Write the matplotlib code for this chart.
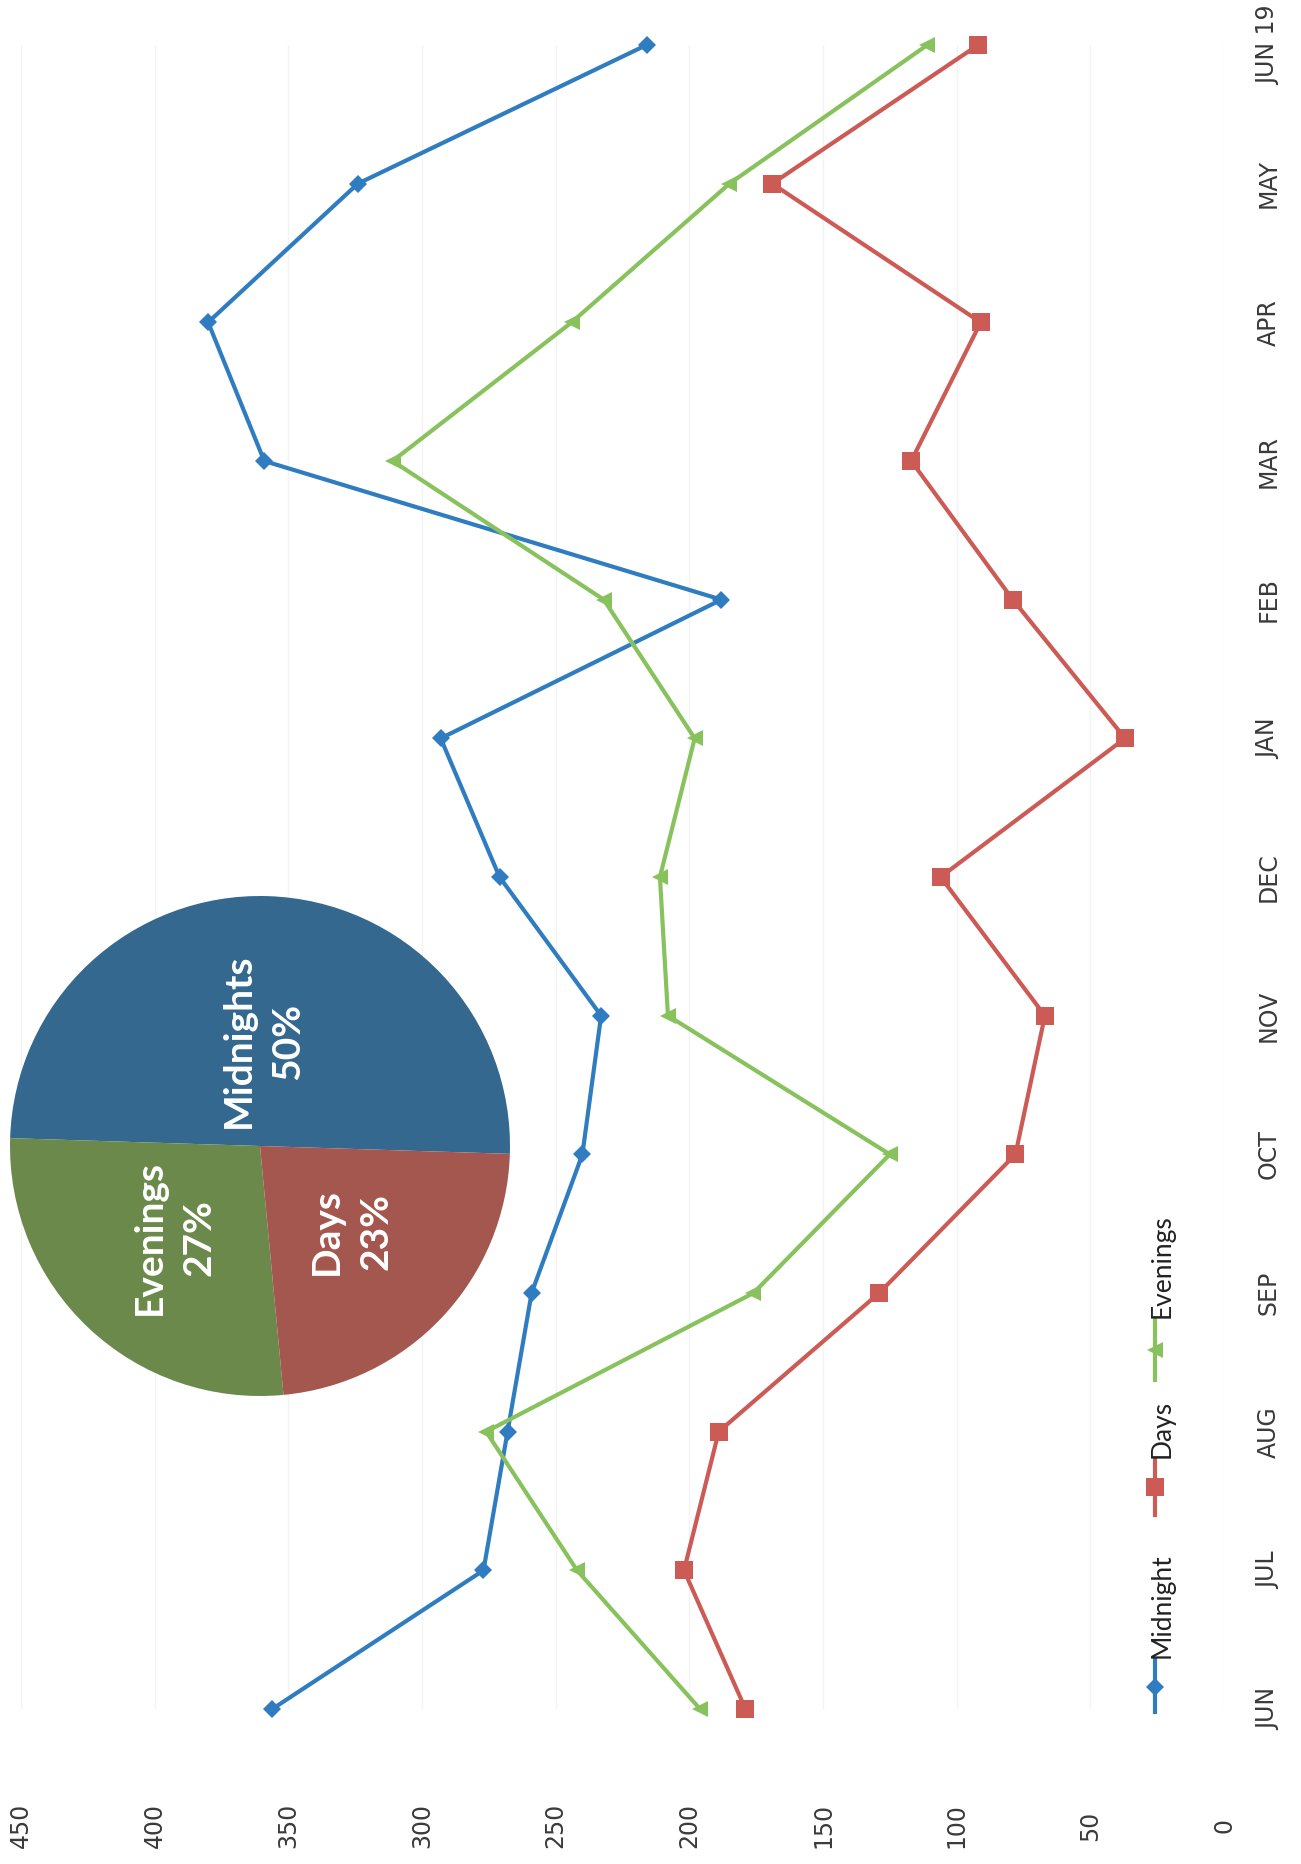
import numpy as np
import matplotlib.pyplot as plt
from matplotlib.lines import Line2D

# monthly counts per shift
months = ["JUN", "JUL", "AUG", "SEP", "OCT", "NOV", "DEC",
          "JAN", "FEB", "MAR", "APR", "MAY", "JUN 19"]
midnight = [356, 277, 268, 259, 240, 233, 271, 293, 188, 359, 380, 324, 216]
days = [179, 202, 189, 129, 78, 67, 106, 37, 79, 117, 91, 169, 92]
evenings = [196, 242, 276, 176, 125, 208, 211, 198, 232, 311, 244, 185, 111]

# share of incidents by shift
pie_labels = ["Midnights", "Evenings", "Days"]
pie_values = [50, 27, 23]

value_ticks = list(range(0, 451, 50))

W, H = 1301, 1864
BLUE, RED, GREEN = "#2f7dc0", "#cc5a55", "#88c25c"


def fx(px):
    return px / W


def fy(py):
    return 1 - py / H


fig = plt.figure(figsize=(W / 100, H / 100), dpi=100)

# page is turned sideways: values run right-to-left, months bottom-to-top
ax = fig.add_axes([fx(21), fy(1709), 1203 / W, 1664 / H])
pos = np.arange(len(months))

series = [
    ("Midnight", midnight, BLUE, "D", 9),
    ("Days", days, RED, "s", 13),
    ("Evenings", evenings, GREEN, "<", 12),
]
for name, vals, color, marker, ms in series:
    ax.plot(vals, pos, color=color, lw=3, marker=marker, ms=ms,
            markeredgewidth=0, clip_on=False, zorder=3)

ax.set_xlim(450, 0)
ax.set_ylim(0, len(months) - 1)
for s in ax.spines.values():
    s.set_visible(False)

ax.set_xticks(value_ticks)
ax.set_xticklabels([str(v) for v in value_ticks], rotation=90,
                   fontsize=17, color="#3a3a3a", va="center")
ax.tick_params(axis="x", length=0, pad=84)

ax.set_yticks(pos)
ax.set_yticklabels(months, rotation=90, fontsize=17, color="#3a3a3a",
                   family=["Liberation Sans Narrow", "DejaVu Sans"],
                   ha="center", va="center")
ax.yaxis.tick_right()
ax.tick_params(axis="y", length=0, pad=32)

ax.grid(axis="x", color="#f3f3f3", lw=1)
ax.set_axisbelow(True)

# legend, drawn by hand so it can stand on its side
legend_rows = [(1712, 1660, 1687, 1658), (1515, 1460, 1487, 1458),
               (1380, 1320, 1350, 1318)]
for (name, vals, color, marker, ms), (y0, y1, ym, yt) in zip(series, legend_rows):
    fig.add_artist(Line2D([fx(1155), fx(1155)], [fy(y0), fy(y1)],
                          color=color, lw=3))
    fig.add_artist(Line2D([fx(1155)], [fy(ym)], color=color, marker=marker,
                          ms=ms, markeredgewidth=0, lw=0))
    fig.text(fx(1162), fy(yt), name, rotation=90, ha="center", va="bottom",
             fontsize=19, family="Lato", color="#222222")

# pie inset
pax = fig.add_axes([fx(10), fy(1396), 500 / W, 500 / H])
wedges, _ = pax.pie(pie_values, colors=["#35688f", "#6a894b", "#a4574e"],
                    startangle=-1.8, counterclock=True, radius=1.0)
total = sum(pie_values)
for w, label, v in zip(wedges, pie_labels, pie_values):
    mid = np.deg2rad((w.theta1 + w.theta2) / 2)
    r = 0.42 if label == "Midnights" else 0.5
    pax.text(r * np.cos(mid), r * np.sin(mid),
             f"{label}\n{round(100 * v / total)}%", rotation=90,
             ha="center", va="center", color="white", fontsize=28,
             family="Lato", fontweight="bold", linespacing=1.5)
pax.set_xlim(-1, 1)
pax.set_ylim(-1, 1)
pax.set_aspect("equal")
pax.axis("off")

fig.savefig("out.png", dpi=100)
